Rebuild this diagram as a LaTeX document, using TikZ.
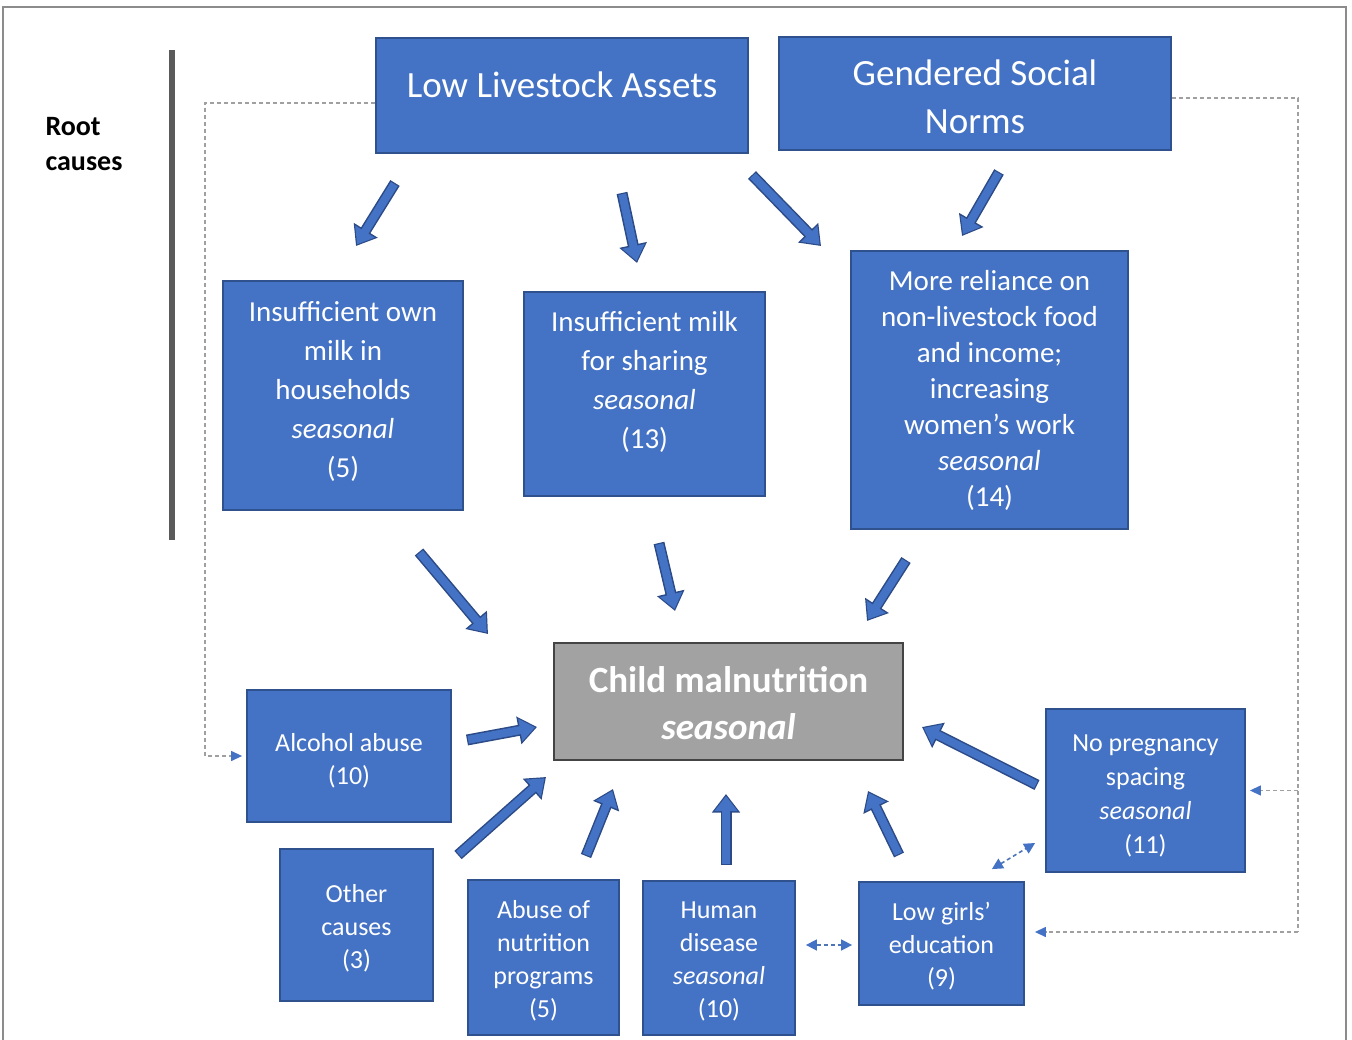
\documentclass[tikz,border=0pt]{standalone}
\usepackage{fontspec}
\setmainfont{Carlito}
\usetikzlibrary{arrows.meta}
\definecolor{boxblue}{HTML}{4472C4}
\definecolor{boxedge}{HTML}{2F528F}
\definecolor{arrowedge}{HTML}{2B4A86}
\definecolor{childgray}{HTML}{A2A2A2}
\definecolor{childedge}{HTML}{444444}
\definecolor{dashgray}{HTML}{A0A0A0}
\definecolor{barcol}{HTML}{5A5A5A}
\definecolor{framecol}{HTML}{8C8C8C}
\begin{document}
\begin{tikzpicture}[x=1pt,y=-1pt,
  box/.style={draw=boxedge, fill=boxblue, line width=1.8pt, inner sep=0pt},
  lab/.style={text=white, align=center, inner sep=0pt},
  bigfont/.style={font=\fontsize{37}{48}\selectfont},
  midfont/.style={font=\fontsize{29}{39}\selectfont},
  relfont/.style={font=\fontsize{29}{36}\selectfont},
  smallfont/.style={font=\fontsize{26}{33}\selectfont},
  fatarrow/.style={draw=boxblue, line width=8pt, shorten >=2pt, shorten <=1.2pt,
    -{Triangle[length=15pt,width=22pt]},
    preaction={draw=arrowedge, line width=11pt, shorten >=0pt, shorten <=0pt,
      -{Triangle[length=18.5pt,width=27pt]}}},
  dashline/.style={draw=dashgray, line width=1.3pt, dash pattern=on 4pt off 3pt},
  dtip/.style={-{Triangle[length=11pt,width=10pt,color=boxblue]}},
  dblline/.style={draw=boxblue!80!gray, line width=1.6pt, dash pattern=on 4pt off 3pt,
    {Triangle[length=11pt,width=11pt,color=boxblue]}-{Triangle[length=11pt,width=11pt,color=boxblue]}}
]
\useasboundingbox (0,0) rectangle (1352,1040);
% frame
\draw[framecol, line width=1.5pt] (3,1045) -- (3,7) -- (1346,7) -- (1346,1045);
% root causes
\node[font=\bfseries\fontsize{28}{35}\selectfont, align=left, text=black] (root) at (84,144) {Root\\causes};
\draw[barcol, line width=6pt] (172,50) -- (172,540);

% boxes
\node[box, minimum width=372pt, minimum height=115pt,
  label={[lab, bigfont, yshift=11pt]center:{Low Livestock Assets}}] (lla) at (562,95.5) {};
\node[box, minimum width=392pt, minimum height=113pt,
  label={[lab, bigfont, yshift=-3pt]center:{Gendered Social\\Norms}}] (gsn) at (975,93.5) {};
\node[box, minimum width=240pt, minimum height=229pt,
  label={[lab, midfont, yshift=4pt]center:{Insufficient own\\milk in\\households\\\textit{seasonal}\\(5)}}] (iom) at (343,395.5) {};
\node[box, minimum width=241pt, minimum height=204pt,
  label={[lab, midfont, yshift=12pt]center:{Insufficient milk\\for sharing\\\textit{seasonal}\\(13)}}] (ims) at (644.5,394) {};
\node[box, minimum width=277pt, minimum height=278pt,
  label={[lab, relfont]center:{More reliance on\\non-livestock food\\and income;\\increasing\\women’s work\\\textit{seasonal}\\(14)}}] (mr) at (989.5,390) {};
\node[draw=childedge, fill=childgray, line width=2pt, inner sep=0pt,
  minimum width=349pt, minimum height=117pt,
  label={[lab, font=\bfseries\fontsize{37}{47}\selectfont, yshift=-2pt]center:{Child malnutrition\\\textit{seasonal}}}] (child) at (728.5,701.5) {};
\node[box, minimum width=204pt, minimum height=132pt,
  label={[lab, smallfont, yshift=-5pt]center:{Alcohol abuse\\(10)}}] (alc) at (349,756) {};
\node[box, minimum width=153pt, minimum height=152pt,
  label={[lab, smallfont, yshift=-3pt]center:{Other\\causes\\(3)}}] (oth) at (356.5,925) {};
\node[box, minimum width=151pt, minimum height=155pt,
  label={[lab, smallfont, yshift=-3pt]center:{Abuse of\\nutrition\\programs\\(5)}}] (anp) at (543.5,957.5) {};
\node[box, minimum width=152pt, minimum height=154pt,
  label={[lab, smallfont, yshift=-3pt]center:{Human\\disease\\\textit{seasonal}\\(10)}}] (hd) at (719,958) {};
\node[box, minimum width=165pt, minimum height=123pt,
  label={[lab, smallfont, yshift=-3pt]center:{Low girls’\\education\\(9)}}] (lge) at (941.5,943.5) {};
\node[box, minimum width=199pt, minimum height=163pt,
  label={[lab, font=\fontsize{26}{34}\selectfont, yshift=-5pt]center:{No pregnancy\\spacing\\\textit{seasonal}\\(11)}}] (npg) at (1145.5,790.5) {};

% arrow end points
\coordinate (lla-iom-t) at (395,183);   \coordinate (lla-iom-h) at (356,246);
\coordinate (lla-ims-t) at (622,193);   \coordinate (lla-ims-h) at (637,263);
\coordinate (lla-mr-t) at (752,175);    \coordinate (lla-mr-h) at (821,246);
\coordinate (gsn-mr-t) at (999,172);    \coordinate (gsn-mr-h) at (962,236);
\coordinate (iom-ch-t) at (419,552);    \coordinate (iom-ch-h) at (488,634);
\coordinate (ims-ch-t) at (659,543);    \coordinate (ims-ch-h) at (675,611);
\coordinate (mr-ch-t) at (906,560);     \coordinate (mr-ch-h) at (867,621);
\coordinate (alc-ch-t) at (467,740);    \coordinate (alc-ch-h) at (537,727);
\coordinate (oth-ch-t) at (458,855);    \coordinate (oth-ch-h) at (546,777);
\coordinate (anp-ch-t) at (586,856);    \coordinate (anp-ch-h) at (613,789);
\coordinate (hd-ch-t) at (726,865);     \coordinate (hd-ch-h) at (726,794);
\coordinate (lge-ch-t) at (899,855);    \coordinate (lge-ch-h) at (868,791);
\coordinate (npg-ch-t) at (1037,785);   \coordinate (npg-ch-h) at (922,727);

\foreach \a in {lla-iom,lla-ims,lla-mr,gsn-mr,iom-ch,ims-ch,mr-ch,alc-ch,oth-ch,anp-ch,hd-ch,lge-ch,npg-ch}
  \draw[fatarrow] (\a-t) -- (\a-h);

% dashed connectors
\coordinate (lcorner) at (205,756);
\coordinate (rtop) at (1298,98);
\draw[dashline, dtip, shorten >=4pt] ([yshift=-7.5pt]lla.west) -| (lcorner) -- (alc.west);
\draw[dashline] (gsn.east |- rtop) -- (rtop) -- (rtop |- 0,932);
\draw[dashline, dtip, shorten >=4pt] (rtop |- npg.east) -- (npg.east);
\draw[dashline, dtip, shorten >=10pt] (rtop |- 0,932) -- ([yshift=11.5pt]lge.east);
\draw[dblline] ([yshift=13pt,xshift=10pt]hd.east) -- ([yshift=-1.5pt,xshift=-6pt]lge.west);
\draw[dblline] ([xshift=-33pt,yshift=12pt]lge.north east) -- ([xshift=-10pt,yshift=-52.5pt]npg.west);
\end{tikzpicture}
\end{document}
